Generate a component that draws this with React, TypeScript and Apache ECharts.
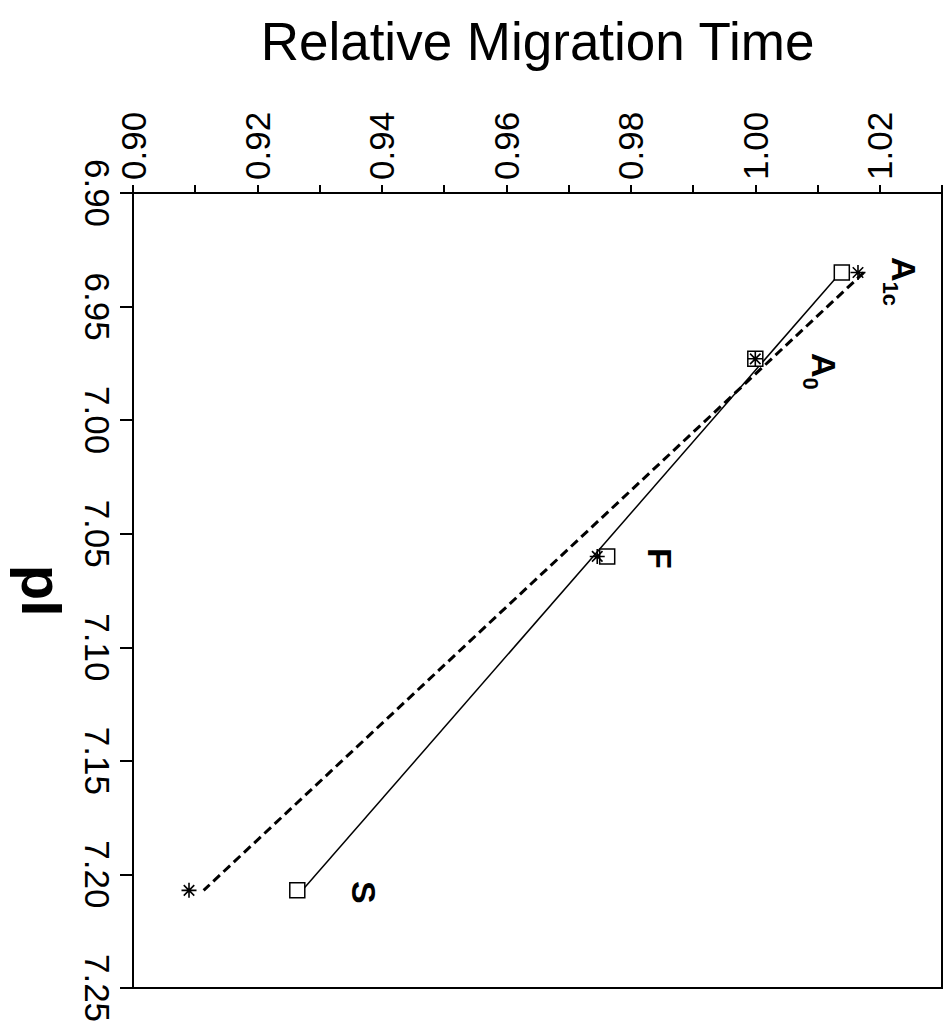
import React, { useEffect, useRef } from 'react';
import * as echarts from 'echarts';

// ---- data ----
const pointNames = ['A1c', 'A0', 'F', 'S'];
const labelMain = ['A', 'A', 'F', 'S'];
const labelSub = ['1c', '0', '', ''];
const pIValues = [6.935, 6.973, 7.06, 7.207];
const rmtSquare = [1.0139, 1.0, 0.9762, 0.9264];
const rmtStar = [1.0165, 1.0, 0.9746, 0.909];
const xTickLabels = ['0.90', '0.92', '0.94', '0.96', '0.98', '1.00', '1.02'];
const yTickLabels = ['6.90', '6.95', '7.00', '7.05', '7.10', '7.15', '7.20', '7.25'];

const FONT = '"Liberation Sans", Arial, Helvetica, sans-serif';
const labelOffsets: number[][] = [
  [9, -54.5],
  [12.5, -61],
  [2, -44.5],
  [2, -58.5],
];

const STAR = 'path://M10,0L10,20M0,10L20,10M3,3L17,17M3,17L17,3';

// least-squares fit of RMT against pI, drawn over the measured pI range
function fitLine(p: number[], r: number[]): number[][] {
  const n = p.length;
  const mp = p.reduce((a, b) => a + b, 0) / n;
  const mr = r.reduce((a, b) => a + b, 0) / n;
  let sxx = 0;
  let sxy = 0;
  for (let i = 0; i < n; i++) {
    sxx += (p[i] - mp) * (p[i] - mp);
    sxy += (p[i] - mp) * (r[i] - mr);
  }
  const b = sxy / sxx;
  const pMin = Math.min(...p);
  const pMax = Math.max(...p);
  return [
    [mr + b * (pMin - mp), pMin],
    [mr + b * (pMax - mp), pMax],
  ];
}

export default function App() {
  const ref = useRef<HTMLDivElement>(null);

  useEffect(() => {
    document.body.style.margin = '0';
    if (!ref.current) return;
    const chart = echarts.init(ref.current, null, { renderer: 'svg' });

    const option: any = {
      animation: false,
      backgroundColor: '#ffffff',
      grid: {
        left: 133,
        right: 9,
        top: 193,
        bottom: 42,
        show: true,
        borderColor: '#000',
        borderWidth: 2,
        backgroundColor: 'transparent',
      },
      xAxis: {
        type: 'value',
        position: 'top',
        min: 0.9,
        max: 1.03,
        interval: 0.01,
        name: 'Relative Migration Time',
        nameLocation: 'middle',
        nameGap: 125,
        nameTextStyle: { fontFamily: FONT, fontSize: 53, color: '#000' },
        axisLine: { show: true, onZero: false, lineStyle: { color: '#000', width: 2 } },
        axisTick: { show: true, inside: false, length: 8, lineStyle: { color: '#000', width: 2 } },
        axisLabel: {
          show: true,
          interval: 0,
          rotate: -90,
          margin: 13,
          fontFamily: FONT,
          fontSize: 35,
          color: '#000',
          showMinLabel: true,
          showMaxLabel: true,
          formatter: (v: number) => {
            const s = v.toFixed(2);
            return xTickLabels.includes(s) ? s : '';
          },
        },
        splitLine: { show: false },
      },
      yAxis: {
        type: 'value',
        inverse: true,
        min: 6.9,
        max: 7.25,
        interval: 0.05,
        name: 'pI',
        nameLocation: 'middle',
        nameGap: 62,
        nameRotate: -90,
        nameTextStyle: { fontFamily: FONT, fontSize: 58, fontWeight: 'bold', color: '#000' },
        axisLine: { show: true, onZero: false, lineStyle: { color: '#000', width: 2 } },
        axisTick: { show: true, inside: false, length: 13, lineStyle: { color: '#000', width: 2 } },
        axisLabel: {
          show: true,
          interval: 0,
          rotate: -90,
          margin: 18,
          fontFamily: FONT,
          fontSize: 35,
          color: '#000',
          showMinLabel: true,
          showMaxLabel: true,
          formatter: (v: number) => {
            const s = v.toFixed(2);
            return yTickLabels.includes(s) ? s : '';
          },
        },
        splitLine: { show: false },
      },
      series: [
        {
          type: 'line',
          name: 'fit-square',
          z: 1,
          data: fitLine(pIValues, rmtSquare),
          symbol: 'none',
          lineStyle: { color: '#000', width: 1.5, type: 'solid' },
          emphasis: { disabled: true },
          silent: true,
        },
        {
          type: 'line',
          name: 'fit-star',
          z: 1,
          data: fitLine(pIValues, rmtStar),
          symbol: 'none',
          lineStyle: { color: '#000', width: 3, type: [9, 5] },
          emphasis: { disabled: true },
          silent: true,
        },
        {
          type: 'scatter',
          name: 'square',
          z: 2,
          data: pIValues.map((p, i) => ({
            name: pointNames[i],
            value: [rmtSquare[i], p],
            label: { offset: labelOffsets[i] },
          })),
          symbol: 'rect',
          symbolSize: 15,
          itemStyle: { color: '#fff', borderColor: '#000', borderWidth: 1.5, opacity: 1 },
          emphasis: { disabled: true },
          label: {
            show: true,
            position: 'inside',
            rotate: -90,
            color: '#000',
            textBorderWidth: 0,
            formatter: (p: any) => {
              const i = p.dataIndex;
              return labelSub[i]
                ? `{m|${labelMain[i]}}{s|${labelSub[i]}}`
                : `{m|${labelMain[i]}}`;
            },
            rich: {
              m: {
                fontFamily: FONT,
                fontSize: 34,
                fontWeight: 'bold',
                color: '#000',
                lineHeight: 34,
                padding: [0, 0, 8, 0],
                verticalAlign: 'bottom',
              },
              s: {
                fontFamily: FONT,
                fontSize: 22,
                fontWeight: 'bold',
                color: '#000',
                lineHeight: 22,
                verticalAlign: 'bottom',
              },
            },
          },
        },
        {
          type: 'scatter',
          name: 'star',
          z: 3,
          data: pIValues.map((p, i) => ({ name: pointNames[i], value: [rmtStar[i], p] })),
          symbol: STAR,
          symbolSize: 15,
          itemStyle: { color: '#000', borderColor: '#000', borderWidth: 1.6, opacity: 1 },
          emphasis: { disabled: true },
          label: { show: false },
        },
      ],
    };

    chart.setOption(option);
    return () => {
      chart.dispose();
    };
  }, []);

  return <div ref={ref} style={{ width: 951, height: 1030 }} />;
}
